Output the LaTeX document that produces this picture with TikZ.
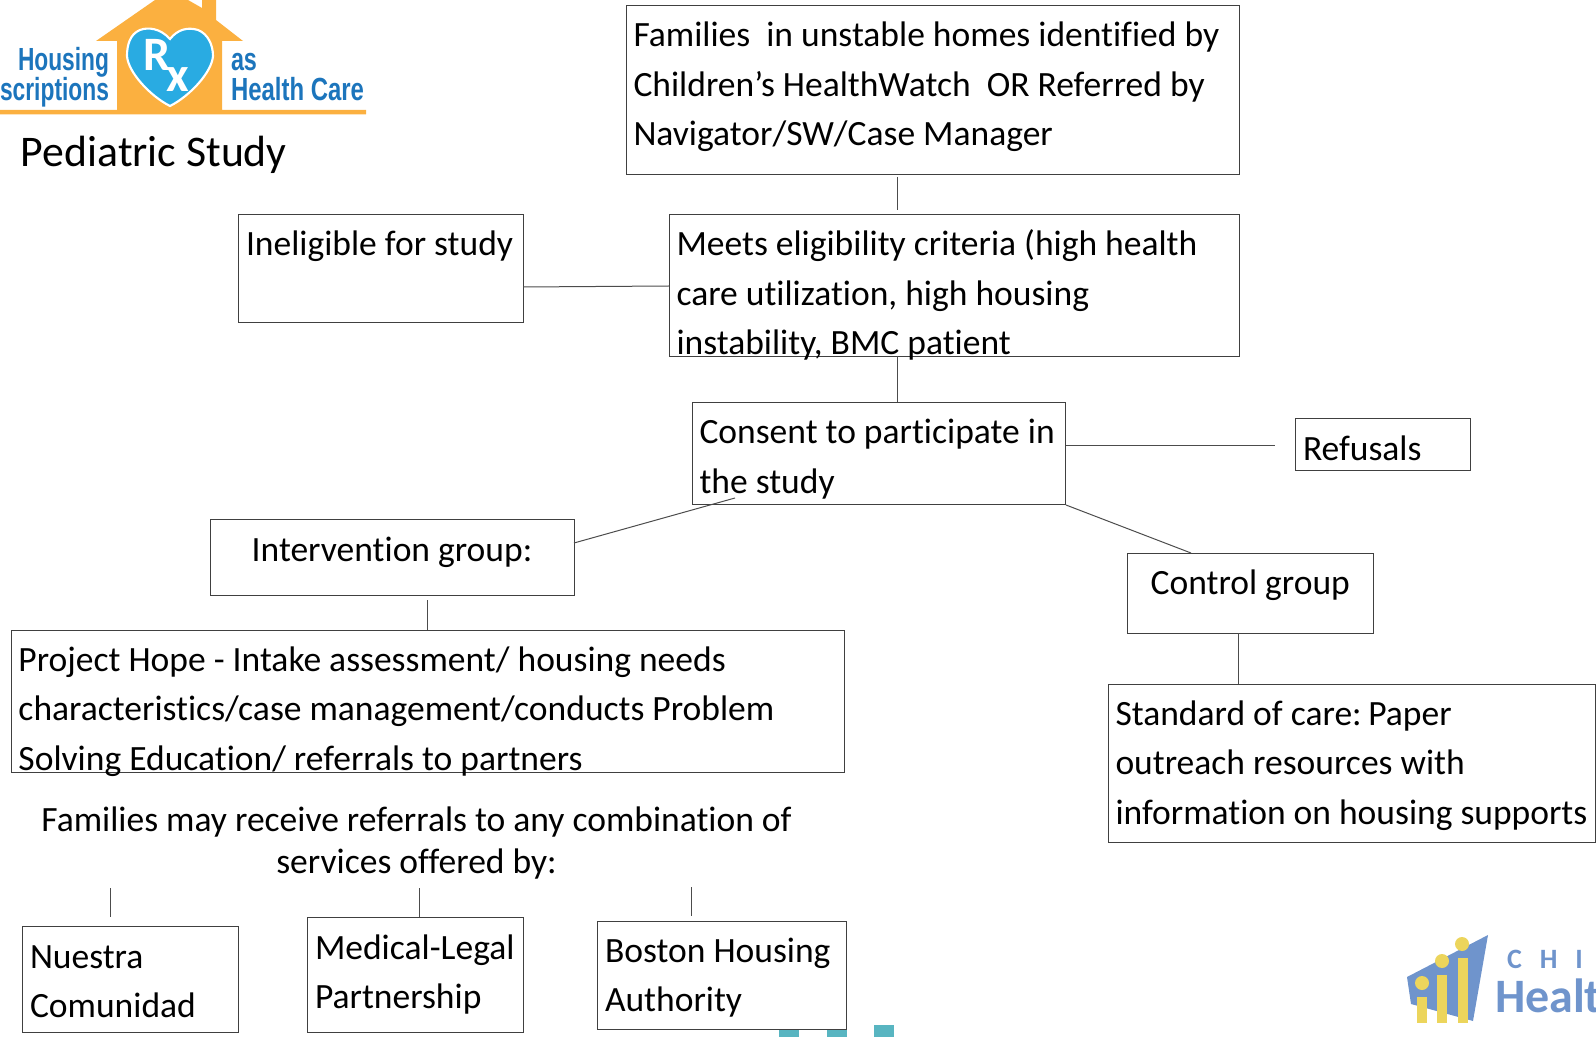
\documentclass[tikz,border=0pt]{standalone}
\usepackage{fontspec}
\usepackage{graphicx}
\setmainfont[Ligatures=NoCommon]{Carlito}
\newfontfamily\logofont{Liberation Sans}
\newdimen\pxu \pxu=0.75pt
\newcommand{\btext}[3]{\parbox[t][#2\pxu][t]{\dimexpr #1\pxu-15\pxu\relax}{\rule{0pt}{41.5\pxu}#3}}
\newcommand{\ctext}[3]{\parbox[t][#2\pxu][t]{\dimexpr #1\pxu-15\pxu\relax}{\centering\rule{0pt}{41.5\pxu}#3}}
\definecolor{house}{HTML}{FBB040}
\definecolor{rxblue}{HTML}{29ABE2}
\definecolor{logotext}{HTML}{1C75BC}
\definecolor{chwblue}{HTML}{6F94CC}
\definecolor{chwyellow}{HTML}{ECD55C}
\definecolor{teal}{HTML}{58B5C1}
\tikzset{
  boxn/.style={draw=black!75,fill=none,line width=0.75pt,anchor=north west,inner xsep=7.5*\pxu,inner ysep=0pt,outer sep=0pt,align=left,font=\fontsize{26.65}{37}\selectfont},
  link/.style={draw=black!70,line width=0.75pt},
  plain/.style={inner sep=0pt,outer sep=0pt,anchor=base west},
  logotxt/.style={plain,text=logotext,font=\logofont\bfseries\fontsize{24}{30}\selectfont},
  chwtxt/.style={plain,text=chwblue},
}
\begin{document}
\begin{tikzpicture}[x=0.75pt,y=-0.75pt]
\useasboundingbox (0,0) rectangle (1596,1037);
\clip (0,0) rectangle (1596,1037);
% teal marks
\fill[teal] (779,1030) rectangle (799,1037);
\fill[teal] (827,1030) rectangle (847,1037);
\fill[teal] (874,1025) rectangle (894,1037);
% housing logo
\fill[house] (96,41) -- (155,0) -- (188,0) -- (202,8) -- (202,0) -- (216,0) -- (216,20) -- (243,41) -- (222,41) -- (222,110) -- (366,110) -- (366,114.5) -- (0,114.5) -- (0,110) -- (117,110) -- (117,41) -- cycle;
\path[fill=rxblue,draw=white,line width=1.6pt] (170,39) .. controls (160,28) and (148,27) .. (140,30) .. controls (130,34) and (127,45) .. (127,56) .. controls (128,72) and (150,96) .. (170,106) .. controls (190,96) and (212,72) .. (213,56) .. controls (213,45) and (208,34) .. (198,30) .. controls (188,27) and (178,29) .. (170,39) -- cycle;
\node[plain,text=white,font=\bfseries\fontsize{36}{36}\selectfont] (rxr) at (143,71) {R};
\node[plain,text=white,font=\bfseries\fontsize{37}{37}\selectfont] (rxx) at (166,92) {x};
\node[logotxt] (lh) at (18,71) {\resizebox{91\pxu}{\height}{Housing}};
\node[logotxt] (ls) at (0,100.5) {\resizebox{109\pxu}{\height}{scriptions}};
\node[logotxt] (la) at (231,71) {\resizebox{26\pxu}{\height}{as}};
\node[logotxt] (lc) at (231,100.5) {\resizebox{133\pxu}{\height}{Health Care}};
\node[plain,font=\fontsize{32.8}{38}\selectfont] (title) at (21,167) {Pediatric Study};
% children's healthwatch logo
\fill[chwblue] (1407,977) -- (1488,935) -- (1473,1021) -- (1411,1004) -- cycle;
\fill[chwyellow] (1417,997) rectangle (1427,1023);
\fill[chwyellow] (1437,975) rectangle (1447,1023);
\fill[chwyellow] (1458,958) rectangle (1468,1023);
\fill[chwyellow] (1422,983) circle (7);
\fill[chwyellow] (1442,961) circle (7);
\fill[chwyellow] (1462,944) circle (7);
\node[chwtxt,font=\bfseries\fontsize{21}{25}\selectfont] (chi) at (1507,968) {C\hspace{18\pxu}H\hspace{18\pxu}I};
\node[chwtxt,font=\bfseries\fontsize{36}{42}\selectfont] (healt) at (1495,1012) {Healt};
% boxes
\node[boxn] (fam) at (626,5.5) {\btext{613}{169}{Families\ \ in unstable homes identified by\\Children’s HealthWatch\ \ OR Referred by\\Navigator/SW/Case Manager}};
\node[boxn] (elig) at (669,214.5) {\btext{570}{142}{Meets eligibility criteria (high health\\care utilization, high housing\\instability, BMC patient}};
\node[boxn] (inel) at (238.5,214.5) {\btext{284.5}{108.5}{Ineligible for study}};
\node[boxn] (cons) at (692,402.5) {\btext{373.5}{101.5}{Consent to participate in\\the study}};
\node[boxn] (refu) at (1295.5,418.5) {\btext{174.5}{52.5}{Refusals}};
\node[boxn] (inte) at (210,519.5) {\ctext{364}{76}{Intervention group:}};
\node[boxn] (ctrl) at (1127.5,553) {\ctext{245.5}{80}{Control group}};
\node[boxn] (proj) at (11,630) {\btext{833}{142}{Project Hope - Intake assessment/ housing needs\\characteristics/case management/conducts Problem\\Solving Education/ referrals to partners}};
\node[boxn] (stan) at (1108,684) {\btext{487}{158}{Standard of care:\kern-1.5\pxu\ Paper\\outreach resources with\\information on housing supports}};
\node[boxn] (nues) at (22.5,926.5) {\btext{216}{106}{Nuestra\\Comunidad}};
\node[boxn] (medi) at (307.5,917.5) {\btext{216}{115}{Medical-Legal\\Partnership}};
\node[boxn] (bost) at (597.5,921) {\btext{249}{108}{Boston Housing\\Authority}};
\node[inner sep=0pt,outer sep=0pt,anchor=base,align=center,font=\fontsize{26.65}{31.3}\selectfont] (refs) at (416.5,873) {Families may receive referrals to any combination of\\services offered by:};
% connector ends
\coordinate (a1) at (897.5,177); \coordinate (a2) at (897.5,210);
\coordinate (b1) at (523,287); \coordinate (b2) at (669,286);
\coordinate (c1) at (897.5,356); \coordinate (c2) at (897.5,402);
\coordinate (d1) at (1066,445.5); \coordinate (d2) at (1275,445.5);
\coordinate (e1) at (735,498); \coordinate (e2) at (574,543);
\coordinate (f1) at (1066,505); \coordinate (f2) at (1191,553);
\coordinate (g1) at (427.5,600); \coordinate (g2) at (427.5,630);
\coordinate (h1) at (1238.5,633); \coordinate (h2) at (1238.5,684);
\coordinate (i1) at (110.5,888); \coordinate (i2) at (110.5,917);
\coordinate (j1) at (419.5,888); \coordinate (j2) at (419.5,917);
\coordinate (k1) at (691.5,887); \coordinate (k2) at (691.5,916);
\foreach \p/\q in {a1/a2,b1/b2,c1/c2,d1/d2,e1/e2,f1/f2,g1/g2,h1/h2,i1/i2,j1/j2,k1/k2}
  \draw[link] (\p) -- (\q);
\end{tikzpicture}
\end{document}
